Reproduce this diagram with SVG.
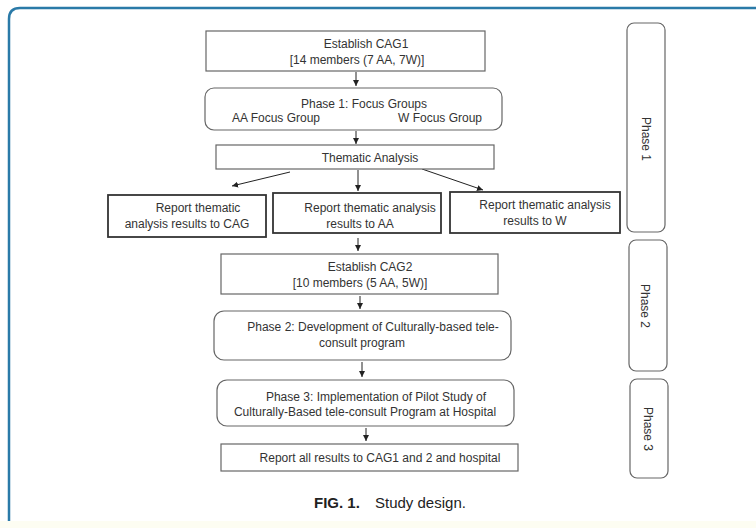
<svg xmlns="http://www.w3.org/2000/svg" width="756" height="528" viewBox="0 0 756 528">
<defs>
<style>
text{font-family:"Liberation Sans",Arial,sans-serif;font-size:12px;fill:#333;}
.b{fill:#fff;stroke:#666;stroke-width:1.2;}
.bt{fill:#fff;stroke:#333;stroke-width:1.8;}
.c{stroke:#222;stroke-width:1;fill:none;marker-end:url(#ah);}
.m{text-anchor:middle;}
.e{text-anchor:end;}
.cap{font-size:15px;fill:#222;}
</style>
<marker id="ah" markerUnits="userSpaceOnUse" markerWidth="8" markerHeight="8" refX="6" refY="3" orient="auto">
<path d="M0,0 L6,3 L0,6 Z" fill="#222"/>
</marker>
</defs>
<rect x="0" y="0" width="756" height="528" fill="#fff"/>
<rect x="0" y="521" width="756" height="7" fill="#fdfdf2"/>
<path d="M9,521 L9,19 Q9,8 20,8 L756,8" fill="none" stroke="#2a7aa8" stroke-width="2.5"/>

<g id="connectors">
<line class="c" x1="356" y1="72" x2="356" y2="86"/>
<line class="c" x1="356" y1="131" x2="356" y2="144"/>
<line class="c" x1="290" y1="172" x2="232" y2="186"/>
<line class="c" x1="358" y1="170" x2="358" y2="191"/>
<line class="c" x1="422" y1="169" x2="483" y2="190"/>
<line class="c" x1="358" y1="238" x2="358" y2="251"/>
<line class="c" x1="360" y1="296" x2="360" y2="309"/>
<line class="c" x1="362" y1="362" x2="362" y2="377"/>
<line class="c" x1="366" y1="428" x2="366" y2="441"/>
</g>

<g id="cag1">
<rect class="b" x="206" y="31" width="279" height="40"/>
<text class="m" x="366" y="48">Establish CAG1</text>
<text class="m" x="357" y="64">[14 members (7 AA, 7W)]</text>
</g>
<g id="phase1-focus">
<rect class="b" x="205" y="88" width="297" height="42" rx="9"/>
<text class="m" x="364" y="108">Phase 1: Focus Groups</text>
<text x="232" y="122">AA Focus Group</text>
<text class="e" x="482" y="122">W Focus Group</text>
</g>
<g id="thematic">
<rect class="b" x="216" y="145" width="278" height="24"/>
<text class="m" x="370" y="162">Thematic Analysis</text>
</g>
<g id="report-cag">
<rect class="bt" x="108" y="195" width="158" height="42"/>
<text class="m" x="198" y="212">Report thematic</text>
<text class="m" x="187" y="228">analysis results to CAG</text>
</g>
<g id="report-aa">
<rect class="bt" x="273" y="193" width="168" height="40"/>
<text class="m" x="370" y="212">Report thematic analysis</text>
<text class="m" x="360" y="228">results to AA</text>
</g>
<g id="report-w">
<rect class="bt" x="450" y="192" width="170" height="41"/>
<text class="m" x="545" y="209">Report thematic analysis</text>
<text class="m" x="535" y="225">results to W</text>
</g>
<g id="cag2">
<rect class="b" x="221" y="254" width="277" height="40"/>
<text class="m" x="370" y="271">Establish CAG2</text>
<text class="m" x="360" y="287">[10 members (5 AA, 5W)]</text>
</g>
<g id="phase2-dev">
<rect class="b" x="214" y="311" width="297" height="49" rx="10"/>
<text class="m" x="373" y="331">Phase 2: Development of Culturally-based tele-</text>
<text class="m" x="362" y="347">consult program</text>
</g>
<g id="phase3-impl">
<rect class="b" x="217" y="380" width="297" height="46" rx="10"/>
<text class="m" x="376" y="401">Phase 3: Implementation of Pilot Study of</text>
<text class="m" x="365" y="416">Culturally-Based tele-consult Program at Hospital</text>
</g>
<g id="report-all">
<rect class="b" x="221" y="444" width="297" height="27"/>
<text class="m" x="380" y="462">Report all results to CAG1 and 2 and hospital</text>
</g>

<g id="phase1-label">
<rect class="b" x="627" y="23" width="38" height="209" rx="7"/>
<text class="m" transform="translate(642,139) rotate(90)">Phase 1</text>
</g>
<g id="phase2-label">
<rect class="b" x="629" y="240" width="38" height="131" rx="7"/>
<text class="m" transform="translate(641,306) rotate(90)">Phase 2</text>
</g>
<g id="phase3-label">
<rect class="b" x="630" y="379" width="38" height="99" rx="7"/>
<text class="m" transform="translate(644,429) rotate(90)">Phase 3</text>
</g>

<g id="caption">
<text class="cap" x="314" y="508" font-weight="bold">FIG. 1.</text>
<text class="cap" x="375" y="508">Study design.</text>
</g>
</svg>
